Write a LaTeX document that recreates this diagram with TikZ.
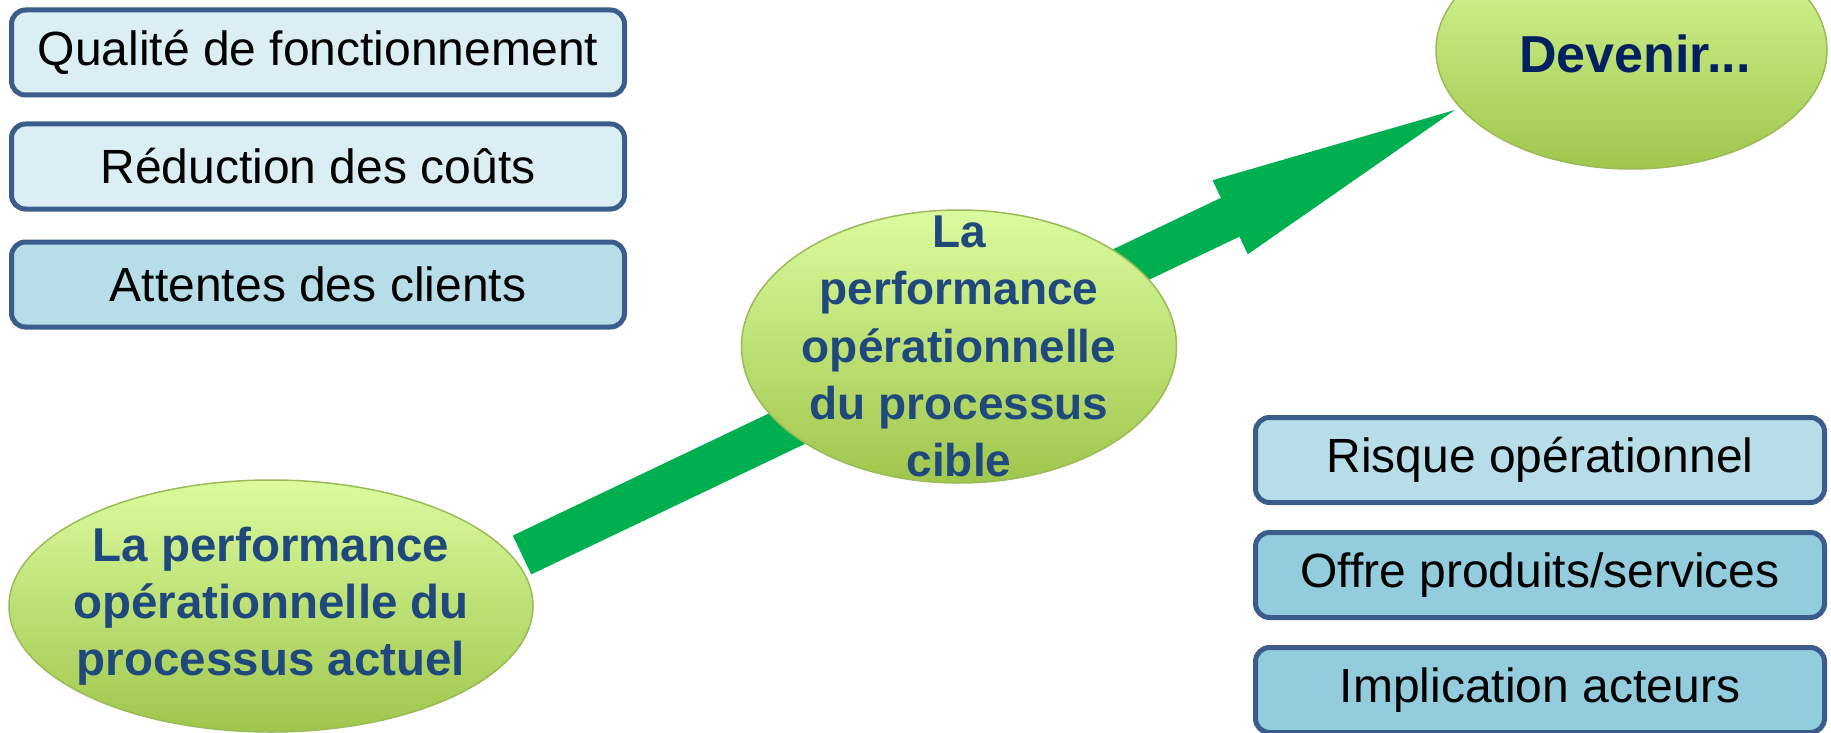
\documentclass[tikz,border=0pt]{standalone}
\usepackage{fontspec}
\setmainfont{Liberation Sans}
\usetikzlibrary{shapes.geometric,calc}

\definecolor{boxline}{HTML}{3A5D8C}
\definecolor{paleblue}{HTML}{DBEEF4}
\definecolor{midblue}{HTML}{B7DEE8}
\definecolor{deepblue}{HTML}{93CDDD}
\definecolor{arrowgreen}{HTML}{00B050}
\definecolor{limetop}{HTML}{DBFB9E}
\definecolor{limebottom}{HTML}{A0C64C}
\definecolor{limeedge}{HTML}{9BBB59}
\definecolor{ovaltext}{HTML}{1F497D}
\definecolor{navy}{HTML}{002060}

\begin{document}
\begin{tikzpicture}[x=1pt,y=-1pt,
  factor/.style={draw=boxline, line width=5pt, rounded corners=14pt,
    minimum height=85pt, inner sep=0pt, text=black,
    font=\fontsize{48}{57}\selectfont},
  leftfactor/.style={factor, minimum width=613pt},
  rightfactor/.style={factor, minimum width=569pt},
  oval/.style={ellipse, draw=limeedge, line width=1.5pt, inner sep=0pt,
    top color=limetop, bottom color=limebottom},
  ovaltxt/.style={inner sep=0pt, align=center, text=ovaltext}
]
% canvas
\fill[white] (0,0) rectangle (1831,733);
\useasboundingbox (0,0) rectangle (1831,733);

% progression arrow (drawn first, the ovals sit on top of it)
\coordinate (tail) at (522,555);
\coordinate (tip) at (1455,110);
\coordinate (headbase) at ($(tail)!0.759!(tip)$);
\fill[arrowgreen]
  ($(tail)!21.5pt!90:(tip)$) --
  ($(headbase)!21.5pt!-90:(tail)$) --
  ($(headbase)!41pt!-90:(tail)$) --
  (tip) --
  ($(headbase)!41pt!90:(tail)$) --
  ($(headbase)!21.5pt!90:(tail)$) --
  ($(tail)!21.5pt!-90:(tip)$) -- cycle;

% left column of factors
\node[leftfactor, fill=paleblue] (qualite) at (318,52.5) {Qualité de fonctionnement};
\node[leftfactor, fill=paleblue] (couts) at (318,166.5) {Réduction des coûts};
\node[leftfactor, fill=midblue] (attentes) at (318,284.5) {Attentes des clients};

% right column of factors
\node[rightfactor, fill=midblue] (risque) at (1540,460) {Risque opérationnel};
\node[rightfactor, fill=deepblue] (offre) at (1540,575) {Offre produits/services};
\node[rightfactor, fill=deepblue] (acteurs) at (1540,690) {Implication acteurs};

% stages of the process
\node[oval, minimum width=524pt, minimum height=252pt] (actuel) at (271,606) {};
\node[ovaltxt, font=\fontsize{47.5}{57}\selectfont\bfseries] (actuelTxt) at (actuel.center)
  {La performance\\opérationnelle du\\processus actuel};

\node[oval, minimum width=435pt, minimum height=273pt] (cible) at (959,346.5) {};
\node[ovaltxt, font=\fontsize{46}{57.3}\selectfont\bfseries] (cibleTxt) at (cible.center)
  {La\\performance\\opérationnelle\\du processus\\cible};

\node[oval, minimum width=391pt, minimum height=238pt] (devenir) at (1631.5,50) {};
\node[inner sep=0pt, anchor=base, text=navy, font=\fontsize{52}{60}\selectfont\bfseries]
  (devenirTxt) at (1635,73) {Devenir...};
\end{tikzpicture}
\end{document}
